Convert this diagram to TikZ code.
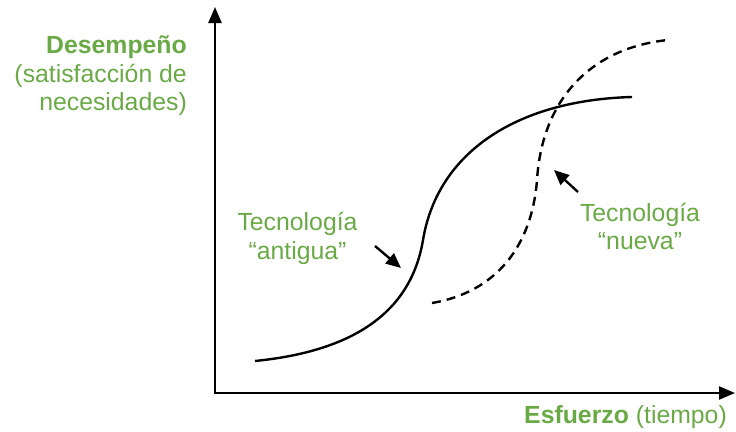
\documentclass[tikz,border=0pt]{standalone}
\usepackage{fontspec}
\setmainfont{Liberation Sans}
\usetikzlibrary{arrows.meta}
\definecolor{lblgreen}{RGB}{106,170,70}
\begin{document}
\begin{tikzpicture}[x=1pt,y=-1pt,
  axis/.style={line width=2.4pt, -{Triangle[length=16pt,width=13pt]}},
  curve/.style={line width=2.4pt},
  newcurve/.style={curve, dash pattern=on 9pt off 6pt},
  pointer/.style={line width=2.4pt, -{Triangle[length=15pt,width=13pt]}},
  lbl/.style={text=lblgreen, font=\fontsize{24.8}{29}\selectfont, inner sep=0pt}]
\useasboundingbox (0,0) rectangle (736,431);
% axes
\coordinate (O) at (215,393);
\coordinate (ytop) at (215,7);
\coordinate (xend) at (735,393);
\draw[axis] ([yshift=-1.2pt]O) -- (ytop);
\draw[axis] ([xshift=-1.2pt]O) -- (xend);
% axis labels
\node[lbl, anchor=base east] (perf) at (187,53) {\bfseries Desempeño};
\node[lbl, anchor=base east] (sat) at (187,82) {(satisfacción de};
\node[lbl, anchor=base east] (nec) at (187,110) {necesidades)};
\node[lbl, anchor=base east] (esf) at (727,423) {\textbf{Esfuerzo} (tiempo)};
% curves
\coordinate (s0) at (255,361);
\coordinate (s1) at (423,240);
\coordinate (s2) at (632,97);
\draw[curve] (s0) .. controls (345,352) and (410,318) .. (s1)
  .. controls (438,150) and (520,100) .. (s2);
\coordinate (d0) at (432,303);
\coordinate (d1) at (537,180);
\coordinate (d2) at (668,40);
\draw[newcurve] (d0) .. controls (497,292) and (532,245) .. (d1)
  .. controls (542,100) and (590,48) .. (d2);
% technology labels
\node[lbl, anchor=base] (old1) at (297.5,230) {Tecnología};
\node[lbl, anchor=base] (old2) at (297.5,259) {“antigua”};
\node[lbl, anchor=base] (new1) at (640,221) {Tecnología};
\node[lbl, anchor=base] (new2) at (640,249) {“nueva”};
% pointers
\coordinate (oldtail) at (375,246);
\coordinate (oldtip) at (401,268);
\coordinate (newtail) at (578,192);
\coordinate (newtip) at (554,170);
\draw[pointer] (oldtail) -- (oldtip);
\draw[pointer] (newtail) -- (newtip);
\end{tikzpicture}
\end{document}
